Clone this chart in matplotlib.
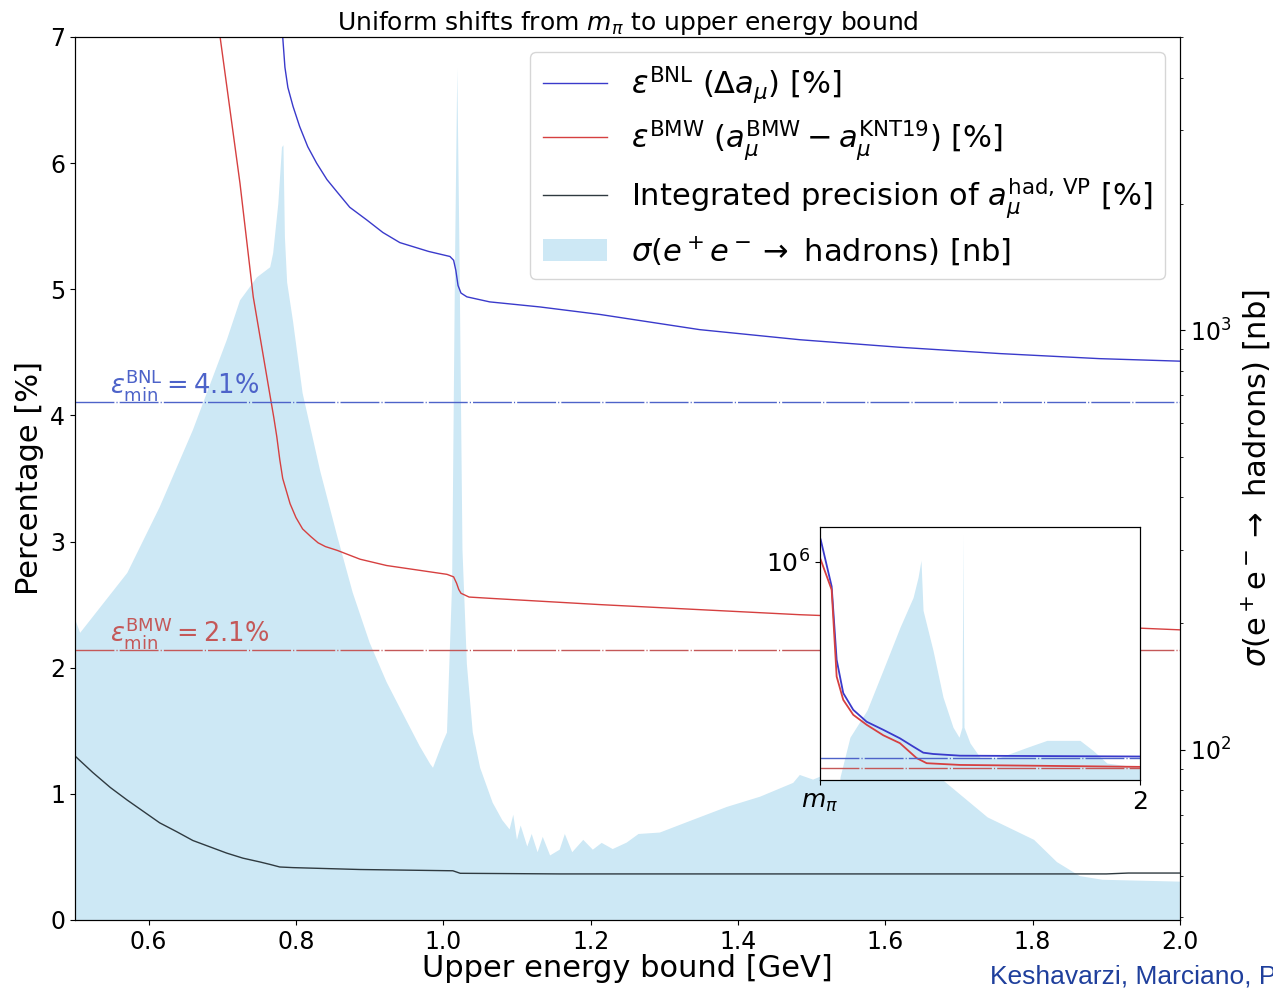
import numpy as np
import matplotlib
matplotlib.use('Agg')
import matplotlib.pyplot as plt
from matplotlib.lines import Line2D
from matplotlib.patches import Patch
from matplotlib.ticker import NullLocator, FixedLocator

# --- main panel data ---
E_bnl = [0.775, 0.782, 0.785, 0.789, 0.796, 0.805, 0.816, 0.828, 0.842, 0.856, 0.873,
         0.896, 0.918, 0.941, 0.98, 1.009, 1.014, 1.017, 1.020, 1.024, 1.032, 1.063,
         1.131, 1.213, 1.348, 1.484, 1.620, 1.756, 1.891, 2.0]
eps_bnl = [7.6, 7.0, 6.76, 6.60, 6.45, 6.29, 6.13, 6.00, 5.87, 5.77, 5.65,
           5.55, 5.45, 5.37, 5.30, 5.26, 5.23, 5.15, 5.03, 4.97, 4.94, 4.90,
           4.86, 4.80, 4.68, 4.60, 4.54, 4.49, 4.45, 4.43]

E_bmw = [0.690, 0.697, 0.724, 0.742, 0.765, 0.770, 0.774, 0.778, 0.782, 0.787, 0.792,
         0.800, 0.809, 0.820, 0.830, 0.840, 0.856, 0.887, 0.923, 0.97, 1.005, 1.014,
         1.018, 1.021, 1.024, 1.035, 1.063, 1.213, 1.484, 1.756, 2.0]
eps_bmw = [7.3, 7.0, 5.84, 4.94, 4.15, 3.98, 3.83, 3.65, 3.50, 3.40, 3.30,
           3.19, 3.10, 3.04, 2.99, 2.96, 2.93, 2.86, 2.81, 2.77, 2.74, 2.72,
           2.67, 2.62, 2.59, 2.56, 2.55, 2.50, 2.42, 2.36, 2.30]

E_int = [0.5, 0.524, 0.548, 0.571, 0.593, 0.615, 0.638, 0.660, 0.683, 0.706, 0.728,
         0.751, 0.765, 0.778, 0.796, 0.887, 1.013, 1.023, 1.158, 1.9, 1.93, 2.0]
prec_int = [1.30, 1.17, 1.05, 0.95, 0.86, 0.77, 0.70, 0.63, 0.58, 0.53, 0.49,
            0.46, 0.44, 0.42, 0.415, 0.40, 0.39, 0.37, 0.365, 0.365, 0.372, 0.372]

eps_bnl_min = 4.11
eps_bmw_min = 2.14

E_sig = [0.50, 0.507, 0.571, 0.615, 0.660, 0.706, 0.724, 0.747, 0.765, 0.769, 0.776,
         0.781, 0.783, 0.785, 0.788, 0.796, 0.809, 0.833, 0.856, 0.877, 0.900, 0.923,
         0.945, 0.968, 0.982, 0.986, 0.999, 1.005, 1.012, 1.016, 1.019, 1.022, 1.026,
         1.032, 1.040, 1.050, 1.067, 1.080, 1.090, 1.095, 1.100, 1.105, 1.114, 1.120,
         1.128, 1.135, 1.145, 1.158, 1.165, 1.175, 1.190, 1.203, 1.215, 1.230, 1.249,
         1.265, 1.294, 1.339, 1.385, 1.430, 1.475, 1.484, 1.502, 1.55, 1.60, 1.65,
         1.677, 1.739, 1.802, 1.833, 1.864, 1.895, 2.0]
sig = [205, 190, 264, 379, 578, 947, 1178, 1337, 1413, 1525, 2000,
       2730, 2760, 1664, 1300, 1050, 708, 461, 323, 237, 180, 145,
       122, 102, 92.6, 90.6, 104, 110, 250, 1500, 4210, 1500, 300,
       160, 110, 90.6, 74.8, 68, 64.6, 70, 61, 66, 58.8, 63,
       57, 62, 56, 57.8, 63, 57, 61, 57.8, 60, 58, 60.1,
       63, 63.5, 68.1, 73.1, 77.3, 83.4, 87.1, 84.9, 92, 96, 92,
       85, 69, 61, 54, 50, 49, 48.5]

# --- inset data (inset coordinates) ---
E_in_bnl = [0.1437, 0.2077, 0.2367, 0.2751, 0.3332, 0.4111, 0.5077, 0.6047, 0.6820,
            0.7402, 0.7983, 0.9536, 2.0]
in_bnl = [4.1e6, 2.1e5, 2020, 245, 85, 40, 24, 14, 8.3, 5.65, 5.2, 4.67, 4.43]
E_in_bmw = [0.1437, 0.2077, 0.2367, 0.2751, 0.3332, 0.4111, 0.5077, 0.6047, 0.7018,
            0.7600, 0.9536, 2.0]
in_bmw = [1.15e6, 1.7e5, 700, 160, 62, 33, 17, 10.3, 4.0, 2.9, 2.6, 2.3]

E_in_sig = [0.256, 0.314, 0.413, 0.506, 0.605, 0.681, 0.710, 0.727, 0.739, 0.797,
            0.855, 0.913, 0.948, 0.965, 0.969, 0.971, 0.973, 0.977, 1.012, 1.07,
            1.186, 1.343, 1.459, 1.651, 1.727, 1.808, 2.0]
in_sig = [37, 82, 140, 310, 730, 1320, 1970, 2760, 1020, 460,
          182, 100, 82, 100, 1000, 4530, 1000, 100, 73, 55,
          55, 67, 77, 77, 63, 49, 45]

c_blue = '#3a3acb'
c_red = '#d64040'
c_black = '#2f3a40'
c_bnl = '#4d63c9'
c_bmw = '#c45858'
c_fill = '#cde8f5'
dash = (0, (28, 1.5, 0.8, 1.5))

fig = plt.figure(figsize=(12.73, 9.89), dpi=100)
ax = fig.add_axes([0.0589, 0.0698, 0.8680, 0.8928])
ax2 = ax.twinx()

ax2.fill_between(E_sig, sig, 1, color=c_fill, lw=0)
ax2.set_yscale('log')
ax2.set_ylim(39.3, 5000)
ax2.tick_params(labelsize=17)
ax2.set_ylabel(r'$\sigma(\mathrm{e^+e^-}\rightarrow$ hadrons) [nb]', fontsize=22, labelpad=6)

ax.set_zorder(ax2.get_zorder() + 1)
ax.patch.set_visible(False)

ax.plot(E_bnl, eps_bnl, color=c_blue, lw=1)
ax.plot(E_bmw, eps_bmw, color=c_red, lw=1)
ax.plot(E_int, prec_int, color=c_black, lw=1)
ax.axhline(eps_bnl_min, color=c_bnl, lw=1, ls=dash)
ax.axhline(eps_bmw_min, color=c_bmw, lw=1, ls=dash)
ax.text(0.548, 4.17, r'$\varepsilon^{\rm BNL}_{\rm min} = 4.1\%$', color=c_bnl, fontsize=18.5)
ax.text(0.548, 2.21, r'$\varepsilon^{\rm BMW}_{\rm min} = 2.1\%$', color=c_bmw, fontsize=18.5)

ax.set_xlim(0.5, 2.0)
ax.set_ylim(0, 7)
ax.set_xticks([0.6, 0.8, 1.0, 1.2, 1.4, 1.6, 1.8, 2.0])
ax.tick_params(labelsize=17)
ax.set_xlabel('Upper energy bound [GeV]', fontsize=22, labelpad=0)
ax.set_ylabel('Percentage [%]', fontsize=22, labelpad=4)
ax.set_title(r'Uniform shifts from $m_\pi$ to upper energy bound', fontsize=18, pad=5)

handles = [Line2D([], [], color=c_blue, lw=1),
           Line2D([], [], color=c_red, lw=1),
           Line2D([], [], color=c_black, lw=1),
           Patch(facecolor=c_fill, edgecolor='none')]
labels = [r'$\varepsilon^{\rm BNL}$ $(\Delta a_\mu)$ [%]',
          r'$\varepsilon^{\rm BMW}$ $(a_\mu^{\rm BMW} - a_\mu^{\rm KNT19})$ [%]',
          r'Integrated precision of $a_\mu^{\rm had,\,VP}$ [%]',
          r'$\sigma(e^+e^- \rightarrow$ hadrons) [nb]']
ax.legend(handles, labels, loc='upper right', fontsize=22, handlelength=2.1,
          labelspacing=0.45, borderaxespad=0.5)

# inset
ax_in2 = fig.add_axes([0.6441, 0.2113, 0.2514, 0.2558])
ax_in2.fill_between(E_in_sig, in_sig, 1, color=c_fill, lw=0)
ax_in2.set_yscale('log')
ax_in2.set_ylim(35, 5350)
ax_in2.set_xlim(0.1396, 2.0)
ax_in2.set_xticks([])
ax_in2.set_yticks([])
ax_in2.yaxis.set_minor_locator(NullLocator())
ax_in2.set_zorder(5)

ax_in = fig.add_axes([0.6441, 0.2113, 0.2514, 0.2558])
ax_in.set_zorder(6)
ax_in.patch.set_visible(False)
ax_in.plot(E_in_bnl, in_bnl, color=c_blue, lw=1.3)
ax_in.plot(E_in_bmw, in_bmw, color=c_red, lw=1.3)
ax_in.axhline(eps_bnl_min, color=c_bnl, lw=1, ls=dash)
ax_in.axhline(eps_bmw_min, color=c_bmw, lw=1, ls=dash)
ax_in.set_yscale('log')
ax_in.set_ylim(1, 9e6)
ax_in.set_xlim(0.1396, 2.0)
ax_in.yaxis.set_major_locator(FixedLocator([1e6]))
ax_in.yaxis.set_minor_locator(NullLocator())
ax_in.set_xticks([0.1396, 2.0])
ax_in.set_xticklabels([r'$m_\pi$', '2'])
ax_in.tick_params(labelsize=18)

fig.text(0.7777, 0.006, 'Keshavarzi, Marciano, Passera, Sirlin', color='#1f3f9c',
         fontsize=19, family='Liberation Sans')

fig.savefig('out.png', dpi=100)
